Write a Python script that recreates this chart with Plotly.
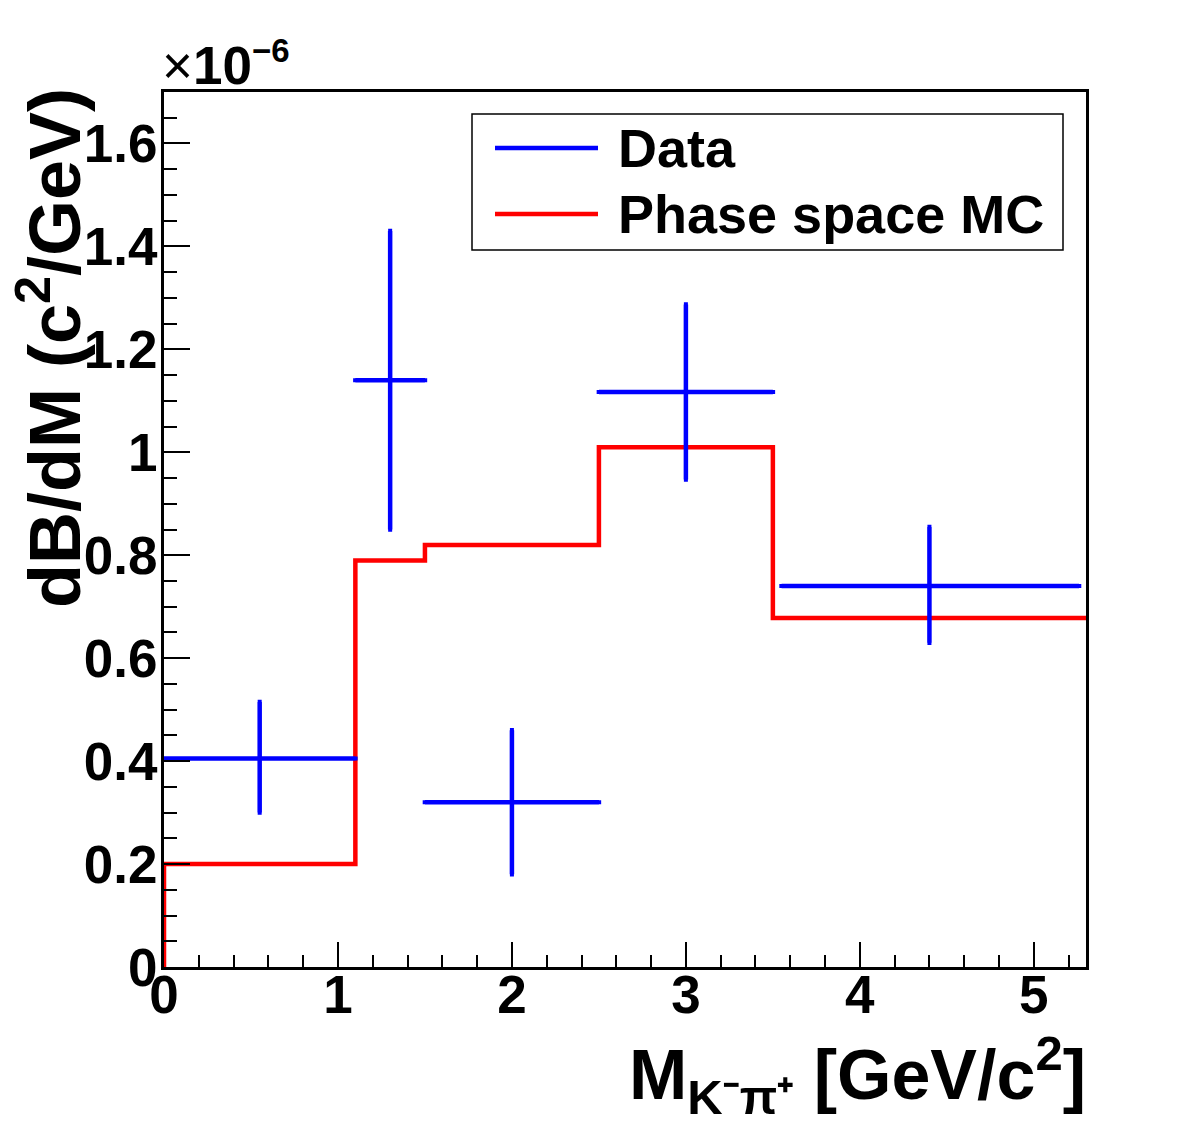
import plotly.graph_objects as go

# ---- data (values in units of 1e-6) ----
data_x = [0.55, 1.30, 2.00, 3.00, 4.40]
data_y = [0.405, 1.140, 0.320, 1.117, 0.740]
data_xerr_lo = [0.55, 0.20, 0.50, 0.50, 0.85]
data_xerr_hi = [0.55, 0.20, 0.50, 0.50, 0.86]
data_yerr_lo = [0.105, 0.290, 0.140, 0.170, 0.110]
data_yerr_hi = [0.110, 0.290, 0.140, 0.170, 0.115]

mc_edges = [0.0, 1.1, 1.5, 2.5, 3.5, 5.3]
mc_vals = [0.200, 0.790, 0.820, 1.010, 0.678]

# ---- style ----
FONT = "Liberation Sans"
BLUE = "#0000ff"
RED = "#ff0000"

fig = go.Figure()

# MC histogram as step line
hx = [mc_edges[0]] + mc_edges
hy = [0.0] + mc_vals + [mc_vals[-1]]
fig.add_trace(go.Scatter(
    x=hx, y=hy, mode="lines", line=dict(color=RED, width=4.5, shape="hv"),
    name="Phase space MC", showlegend=False, hoverinfo="skip"))

# Data with error bars
fig.add_trace(go.Scatter(
    x=data_x, y=data_y, mode="markers",
    marker=dict(size=2, color=BLUE),
    error_x=dict(type="data", symmetric=False, array=data_xerr_hi,
                 arrayminus=data_xerr_lo, color=BLUE, thickness=4.5, width=2),
    error_y=dict(type="data", symmetric=False, array=data_yerr_hi,
                 arrayminus=data_yerr_lo, color=BLUE, thickness=4.5, width=2),
    name="Data", showlegend=False))

tickfont = dict(family=FONT, size=53, color="black", weight="bold")

fig.update_xaxes(
    range=[0, 5.3], tick0=0, dtick=1, ticks="inside", ticklen=25, tickwidth=2,
    tickcolor="black", showline=True, linecolor="black", linewidth=3,
    mirror=True, showgrid=False, zeroline=False, tickfont=tickfont,
    ticklabelstandoff=-21,
    minor=dict(dtick=0.2, ticks="inside", ticklen=12, tickwidth=2,
               tickcolor="black", showgrid=False))
fig.update_yaxes(
    range=[0, 1.7], tick0=0, dtick=0.2, ticks="inside", ticklen=26, tickwidth=2,
    tickcolor="black", showline=True, linecolor="black", linewidth=3,
    mirror=True, showgrid=False, zeroline=False, tickfont=tickfont,
    ticklabelstandoff=-7,
    minor=dict(dtick=0.05, ticks="inside", ticklen=13, tickwidth=2,
               tickcolor="black", showgrid=False))

L, R, T, B = 164, 96, 92, 171
W, H = 1182, 1138
pw, ph = W - L - R, H - T - B

def px(x):
    return (x - L) / pw

def py(y):
    return 1 - (y - T) / ph

shapes = [
    dict(type="rect", xref="paper", yref="paper",
         x0=px(472), x1=px(1063), y0=py(250), y1=py(114),
         line=dict(color="black", width=1.5), fillcolor="white", layer="above"),
    dict(type="line", xref="paper", yref="paper",
         x0=px(495), x1=px(598), y0=py(148), y1=py(148),
         line=dict(color=BLUE, width=4.5)),
    dict(type="line", xref="paper", yref="paper",
         x0=px(495), x1=px(598), y0=py(214), y1=py(214),
         line=dict(color=RED, width=4.5)),
]

legfont = dict(family=FONT, size=54, color="black", weight="bold")
annotations = [
    dict(text="Data", xref="paper", yref="paper", x=px(616), y=py(148),
         xanchor="left", yanchor="middle", showarrow=False, font=legfont),
    dict(text="Phase space MC", xref="paper", yref="paper", x=px(616), y=py(214),
         xanchor="left", yanchor="middle", showarrow=False, font=legfont),
    dict(text="×<b>10</b><sup><b><span style='font-size:33px'>−6</span></b></sup>",
         xref="paper", yref="paper", x=px(160), y=py(97),
         xanchor="left", yanchor="bottom", showarrow=False,
         font=dict(family=FONT, size=53, color="black")),
    dict(text="dB/dM (c<sup>2</sup>/GeV)", xref="paper", yref="paper",
         x=px(49), y=py(86), xanchor="center", yanchor="top", textangle=-90,
         showarrow=False, font=dict(family=FONT, size=72, color="black", weight="bold")),
    dict(text="M<sub>K⁻π⁺</sub> [GeV/c<sup>2</sup>]", xref="paper", yref="paper",
         x=px(1088), y=py(1126), xanchor="right", yanchor="bottom",
         showarrow=False, font=dict(family=FONT, size=70, color="black", weight="bold")),
]

fig.update_layout(
    width=W, height=H, margin=dict(l=L, r=R, t=T, b=B, pad=0),
    plot_bgcolor="white", paper_bgcolor="white", showlegend=False,
    shapes=shapes, annotations=annotations)

fig.write_html("out.html")
